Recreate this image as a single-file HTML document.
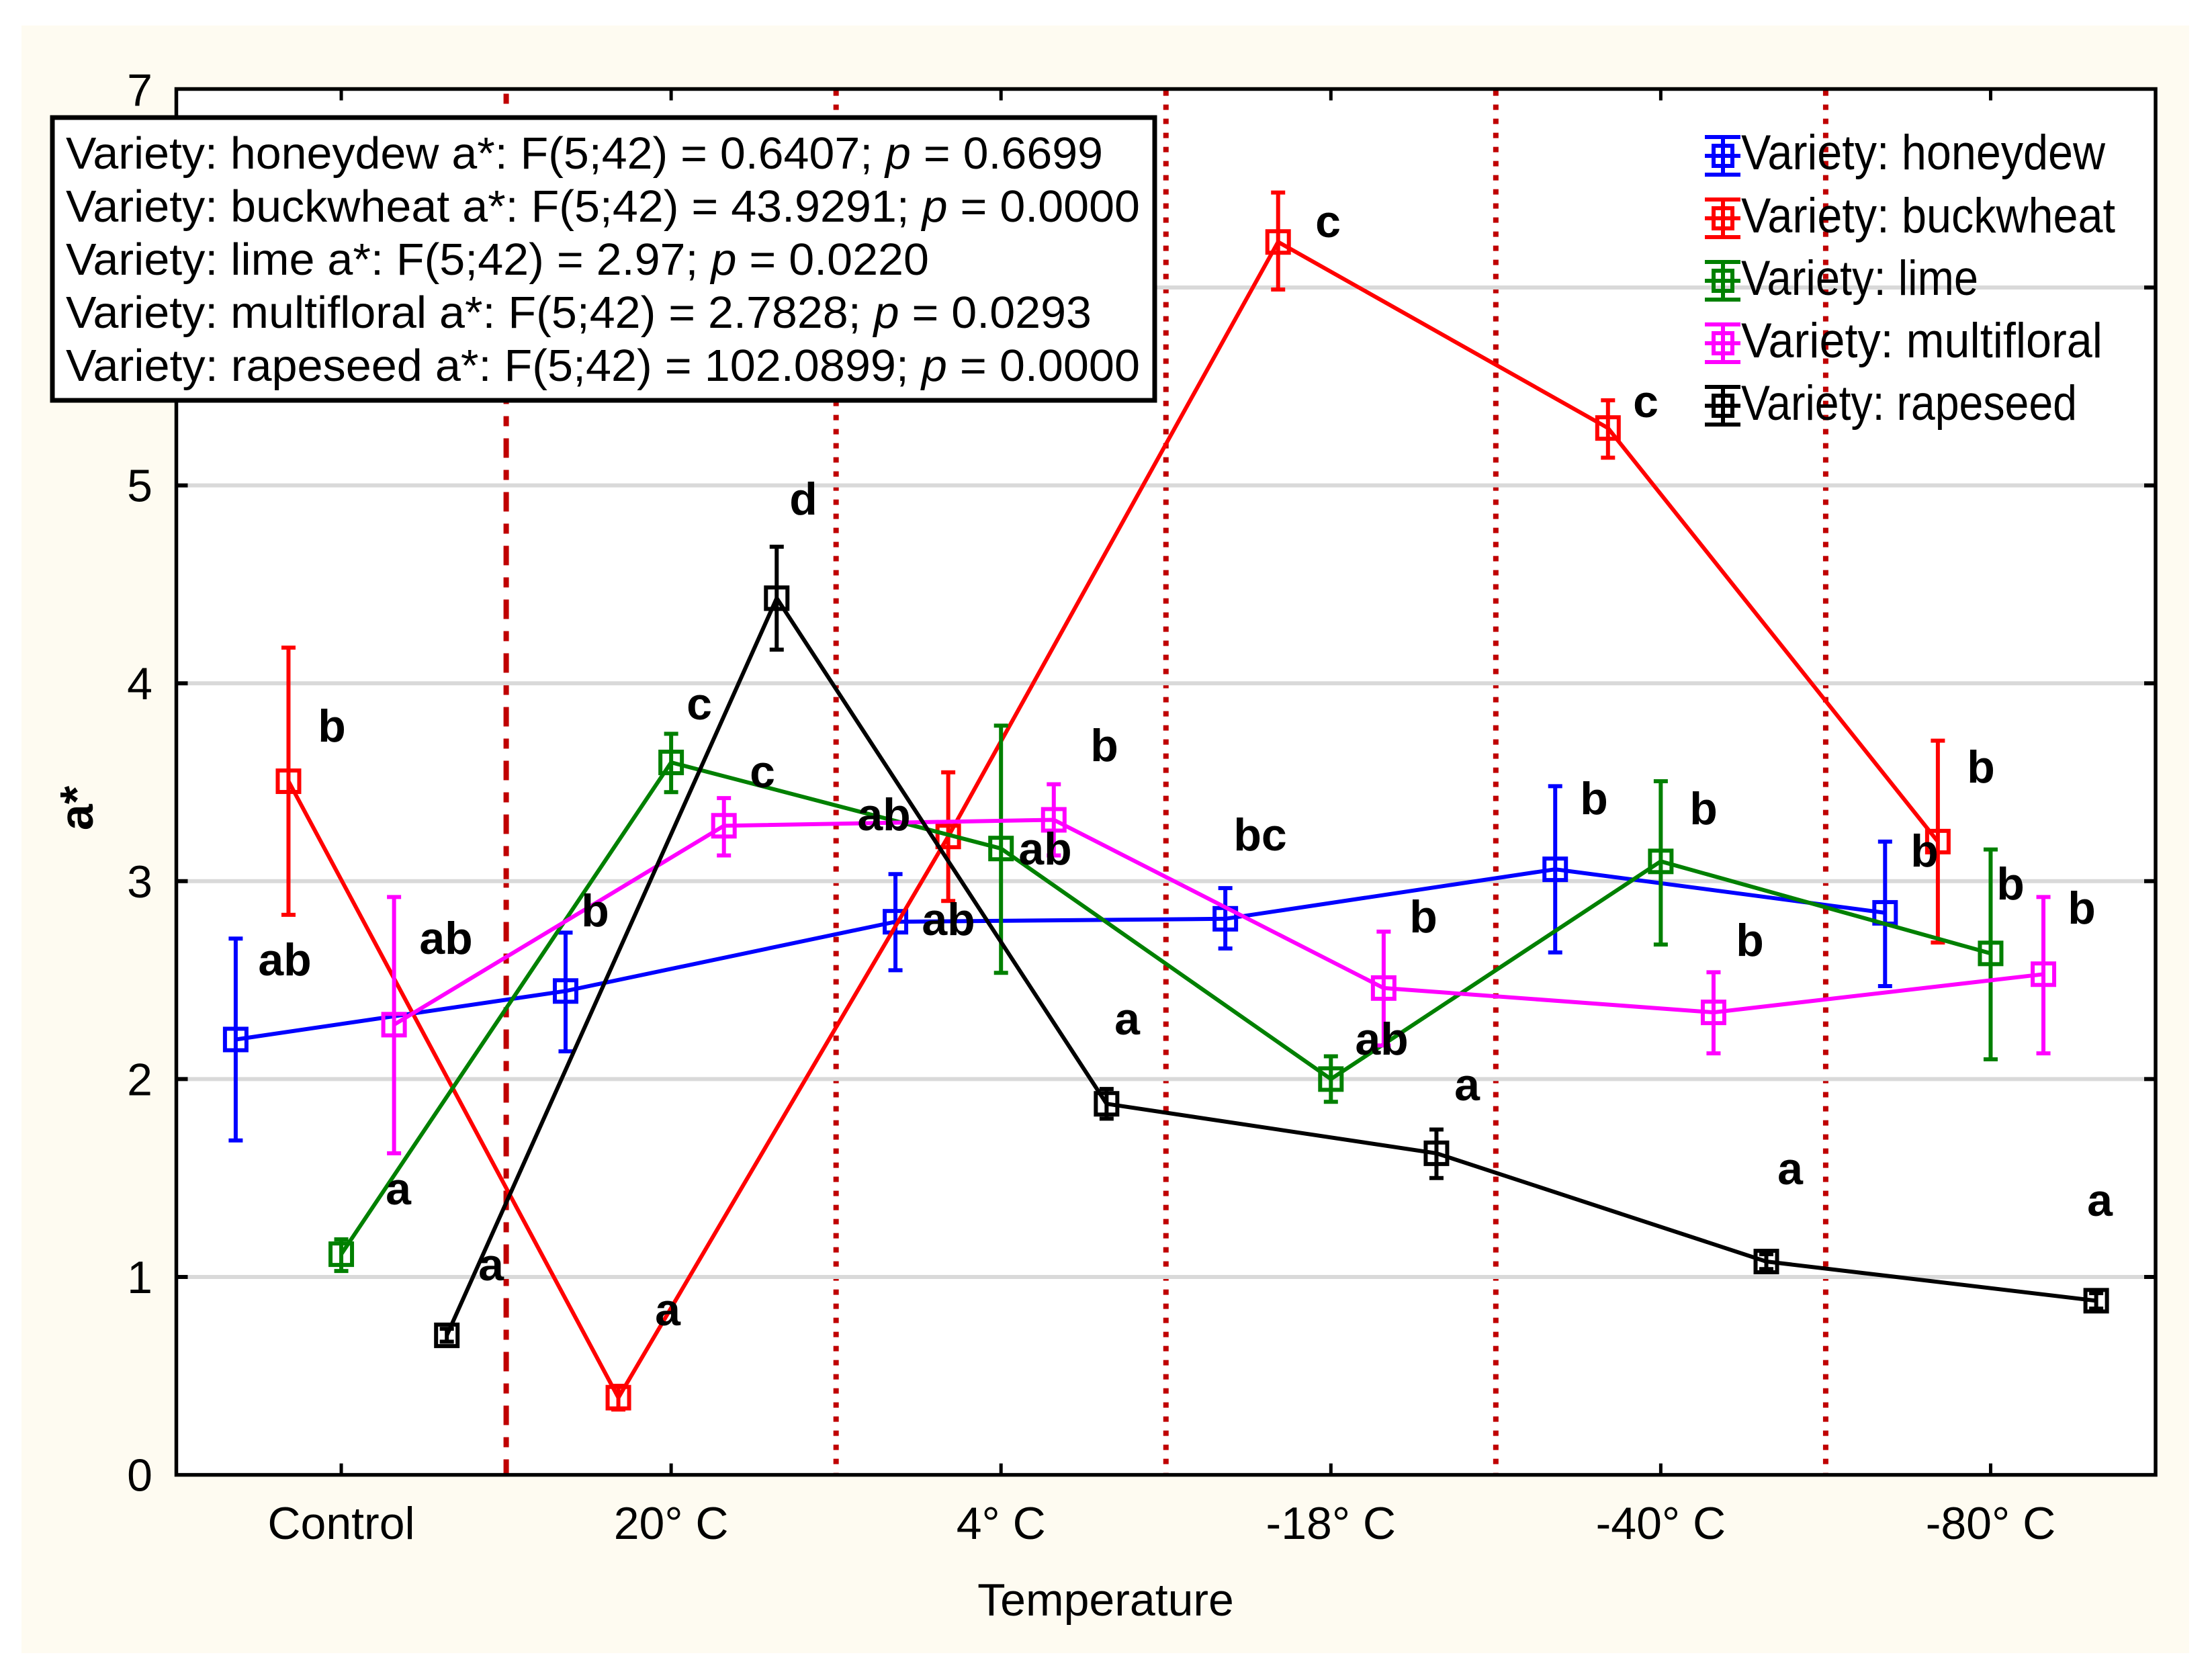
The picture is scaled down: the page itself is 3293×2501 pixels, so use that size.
<!DOCTYPE html>
<html lang="en">
<head>
<meta charset="utf-8">
<title>a* by temperature and honey variety</title>
<style>
html,body{margin:0;padding:0;background:#fff;}
svg{display:block;}
text{font-family:"Liberation Sans",Arial,sans-serif;fill:#000;}
.let{font-size:68px;font-weight:bold;text-anchor:middle;}
.stat{font-size:67px;}
.leg{font-size:73px;}
</style>
</head>
<body>
<svg id="chart" xmlns="http://www.w3.org/2000/svg" width="3293" height="2501" viewBox="0 0 3293 2501">
  <rect x="32" y="38" width="3227" height="2423" fill="#fefbf1"/>
  <rect x="262.5" y="132.5" width="2946.5" height="2063" fill="#fff"/>
  <g id="separators"></g>
  <g id="grid"></g>
  <g id="axes"></g>
  <g id="series"></g>

  <g>
    <text class="let" x="424" y="1452">ab</text>
    <text class="let" x="886" y="1379">b</text>
    <text class="let" x="1412" y="1392">ab</text>
    <text class="let" x="1876" y="1266">bc</text>
    <text class="let" x="2373" y="1212">b</text>
    <text class="let" x="2865" y="1290">b</text>
    <text class="let" x="494" y="1104">b</text>
    <text class="let" x="994" y="1973">a</text>
    <text class="let" x="1316" y="1236">ab</text>
    <text class="let" x="1977" y="353">c</text>
    <text class="let" x="2450" y="621">c</text>
    <text class="let" x="2949" y="1165">b</text>
    <text class="let" x="593" y="1793">a</text>
    <text class="let" x="1041" y="1071">c</text>
    <text class="let" x="1556" y="1287">ab</text>
    <text class="let" x="2057" y="1570">ab</text>
    <text class="let" x="2536" y="1227">b</text>
    <text class="let" x="2993" y="1339">b</text>
    <text class="let" x="664" y="1420">ab</text>
    <text class="let" x="1135" y="1172">c</text>
    <text class="let" x="1644" y="1133">b</text>
    <text class="let" x="2119" y="1388">b</text>
    <text class="let" x="2605" y="1423">b</text>
    <text class="let" x="3099" y="1375">b</text>
    <text class="let" x="731" y="1906">a</text>
    <text class="let" x="1196" y="766">d</text>
    <text class="let" x="1678" y="1540">a</text>
    <text class="let" x="2184" y="1638">a</text>
    <text class="let" x="2665" y="1763">a</text>
    <text class="let" x="3126" y="1810">a</text>
  </g>

  <text transform="translate(138 1203) rotate(-90)" text-anchor="middle" font-size="70" font-weight="bold">a*</text>
  <text x="1646" y="2405" text-anchor="middle" font-size="68">Temperature</text>

  <g>
    <rect x="78" y="175" width="1641" height="421" fill="#fff" stroke="#000" stroke-width="7"/>
    <text class="stat" x="98" y="251" textLength="1544" lengthAdjust="spacingAndGlyphs">Variety: honeydew a*: F(5;42) = 0.6407; <tspan font-style="italic">p</tspan> = 0.6699</text>
    <text class="stat" x="98" y="330" textLength="1599" lengthAdjust="spacingAndGlyphs">Variety: buckwheat a*: F(5;42) = 43.9291; <tspan font-style="italic">p</tspan> = 0.0000</text>
    <text class="stat" x="98" y="409" textLength="1285" lengthAdjust="spacingAndGlyphs">Variety: lime a*: F(5;42) = 2.97; <tspan font-style="italic">p</tspan> = 0.0220</text>
    <text class="stat" x="98" y="488" textLength="1527" lengthAdjust="spacingAndGlyphs">Variety: multifloral a*: F(5;42) = 2.7828; <tspan font-style="italic">p</tspan> = 0.0293</text>
    <text class="stat" x="98" y="567" textLength="1599" lengthAdjust="spacingAndGlyphs">Variety: rapeseed a*: F(5;42) = 102.0899; <tspan font-style="italic">p</tspan> = 0.0000</text>
  </g>

  <g>
    <g>
      <g fill="none" stroke="#0000ff" stroke-width="6">
        <path d="M2538 204H2591M2538 232H2591M2538 260H2591M2565 204V260"/><rect x="2551" y="217" width="28" height="30"/>
      </g>
      <text class="leg" x="2592" y="252" textLength="542" lengthAdjust="spacingAndGlyphs">Variety: honeydew</text>
    </g>
    <g>
      <g fill="none" stroke="#ff0000" stroke-width="6">
        <path d="M2538 297H2591M2538 325H2591M2538 353H2591M2565 297V353"/><rect x="2551" y="310" width="28" height="30"/>
      </g>
      <text class="leg" x="2592" y="346" textLength="557" lengthAdjust="spacingAndGlyphs">Variety: buckwheat</text>
    </g>
    <g>
      <g fill="none" stroke="#008000" stroke-width="6">
        <path d="M2538 390H2591M2538 418H2591M2538 446H2591M2565 390V446"/><rect x="2551" y="403" width="28" height="30"/>
      </g>
      <text class="leg" x="2592" y="439" textLength="353" lengthAdjust="spacingAndGlyphs">Variety: lime</text>
    </g>
    <g>
      <g fill="none" stroke="#ff00ff" stroke-width="6">
        <path d="M2538 483H2591M2538 511H2591M2538 539H2591M2565 483V539"/><rect x="2551" y="496" width="28" height="30"/>
      </g>
      <text class="leg" x="2592" y="532" textLength="538" lengthAdjust="spacingAndGlyphs">Variety: multifloral</text>
    </g>
    <g>
      <g fill="none" stroke="#000000" stroke-width="6">
        <path d="M2538 576H2591M2538 604H2591M2538 632H2591M2565 576V632"/><rect x="2551" y="589" width="28" height="30"/>
      </g>
      <text class="leg" x="2592" y="625" textLength="500" lengthAdjust="spacingAndGlyphs">Variety: rapeseed</text>
    </g>
  </g>
</svg>

<script>
const categories = ['Control', '20° C', '4° C', '-18° C', '-40° C', '-80° C'];
const yTicks = [0, 1, 2, 3, 4, 5, 6, 7];
const gridValues = [1, 2, 3, 4, 5, 6];

const honeydewValues = [2.20, 2.445, 2.795, 2.81, 3.06, 2.84];
const honeydewUpper = [2.71, 2.74, 3.036, 2.965, 3.48, 3.20];
const honeydewLower = [1.69, 2.14, 2.55, 2.66, 2.64, 2.47];

const buckwheatValues = [3.505, 0.39, 3.226, 6.23, 5.29, 3.20];
const buckwheatUpper = [4.18, 0.45, 3.55, 6.48, 5.43, 3.71];
const buckwheatLower = [2.83, 0.33, 2.90, 5.99, 5.14, 2.69];

const limeValues = [1.115, 3.60, 3.165, 2.00, 3.10, 2.635];
const limeUpper = [1.19, 3.745, 3.786, 2.115, 3.505, 3.16];
const limeLower = [1.03, 3.45, 2.537, 1.885, 2.68, 2.10];

const multifloralValues = [2.275, 3.28, 3.31, 2.46, 2.337, 2.53];
const multifloralUpper = [2.92, 3.42, 3.49, 2.745, 2.54, 2.92];
const multifloralLower = [1.625, 3.13, 3.13, 2.17, 2.13, 2.13];

const rapeseedValues = [0.705, 4.43, 1.875, 1.625, 1.078, 0.88];
const rapeseedUpper = [0.738, 4.69, 1.95, 1.745, 1.115, 0.918];
const rapeseedLower = [0.673, 4.17, 1.80, 1.50, 1.04, 0.84];

const NS = 'http://www.w3.org/2000/svg';
const plot = { left: 262.5, right: 3209, top: 132.5, bottom: 2195.6, yMax: 7 };
const bandW = (plot.right - plot.left) / categories.length;
const unitY = 294.6;
const seriesSpread = 0.16;

function xPos(catIndex, seriesIndex) {
  return plot.left + (catIndex + 0.5 + (seriesIndex - 2) * seriesSpread) * bandW;
}
function yPos(v) {
  return plot.bottom - v * unitY;
}
function mk(parent, tag, attrs) {
  const el = document.createElementNS(NS, tag);
  for (const k in attrs) el.setAttribute(k, attrs[k]);
  parent.appendChild(el);
  return el;
}

/* separators between temperature bands */
const sepLayer = document.getElementById('separators');
for (let i = 1; i < categories.length; i++) {
  const sx = plot.left + i * bandW;
  const first = i === 1;
  const sep = mk(sepLayer, 'line', {
    x1: sx, x2: sx,
    y1: first ? plot.top : plot.bottom,
    y2: first ? plot.bottom : plot.top,
    stroke: '#c00000',
    'stroke-width': 8,
    'stroke-dasharray': first ? '29 18 15 18' : '8 13',
    'stroke-dashoffset': first ? 40 : 5
  });
  
  
}

/* gridlines */
const gridLayer = document.getElementById('grid');
gridValues.forEach(function (v) {
  const g = mk(gridLayer, 'line', {
    x1: plot.left, x2: plot.right, y1: yPos(v), y2: yPos(v),
    stroke: '#d9d9d9', 'stroke-width': 6
  });
  
  
});

/* axes, ticks, tick labels */
const axes = document.getElementById('axes');
const frame = mk(axes, 'rect', {
  x: plot.left, y: plot.top, width: plot.right - plot.left, height: plot.bottom - plot.top,
  fill: 'none', stroke: '#000', 'stroke-width': 5.5
});



yTicks.forEach(function (v) {
  const y = yPos(v);
  if (v > 0 && v < plot.yMax) {
    const tl = mk(axes, 'line', { x1: plot.left, x2: plot.left + 17, y1: y, y2: y, stroke: '#000', 'stroke-width': 6 });
    
    
    const tr = mk(axes, 'line', { x1: plot.right - 17, x2: plot.right, y1: y, y2: y, stroke: '#000', 'stroke-width': 6 });
    
    
  }
  const lab = mk(axes, 'text', { x: 227, y: y + 24, 'text-anchor': 'end', 'font-size': 68 });
  
  
  lab.textContent = String(v);
});

categories.forEach(function (c, i) {
  const x = xPos(i, 2);
  const tb = mk(axes, 'line', { x1: x, x2: x, y1: plot.bottom - 17, y2: plot.bottom, stroke: '#000', 'stroke-width': 5 });
  
  
  const tt = mk(axes, 'line', { x1: x, x2: x, y1: plot.top, y2: plot.top + 17, stroke: '#000', 'stroke-width': 5 });
  
  
  const lab = mk(axes, 'text', { x: x, y: 2291, 'text-anchor': 'middle', 'font-size': 68 });
  
  
  lab.textContent = c;
});

/* series */
const seriesLayer = document.getElementById('series');
function drawSeries(key, color, seriesIndex, values, upper, lower) {
  const g = mk(seriesLayer, 'g', {});
  
  
  const pts = values.map(function (v, i) { return xPos(i, seriesIndex).toFixed(1) + ',' + yPos(v).toFixed(1); }).join(' ');
  values.forEach(function (v, i) {
    const x = xPos(i, seriesIndex);
    const hi = yPos(upper[i]);
    const lo = yPos(lower[i]);
    const bar = mk(g, 'path', {
      d: 'M' + x + ' ' + hi + 'V' + lo + 'M' + (x - 10.5) + ' ' + hi + 'H' + (x + 10.5) + 'M' + (x - 10.5) + ' ' + lo + 'H' + (x + 10.5),
      fill: 'none', stroke: color, 'stroke-width': 6
    });
    
    
  });
  const line = mk(g, 'polyline', { points: pts, fill: 'none', stroke: color, 'stroke-width': 6, 'stroke-linejoin': 'miter' });
  
  
  values.forEach(function (v, i) {
    const m = mk(g, 'rect', {
      x: xPos(i, seriesIndex) - 16, y: yPos(v) - 16, width: 32, height: 32,
      fill: 'none', stroke: color, 'stroke-width': 6
    });
    
    
  });
}
drawSeries('honeydew', '#0000ff', 0, honeydewValues, honeydewUpper, honeydewLower);
drawSeries('buckwheat', '#ff0000', 1, buckwheatValues, buckwheatUpper, buckwheatLower);
drawSeries('lime', '#008000', 2, limeValues, limeUpper, limeLower);
drawSeries('multifloral', '#ff00ff', 3, multifloralValues, multifloralUpper, multifloralLower);
drawSeries('rapeseed', '#000000', 4, rapeseedValues, rapeseedUpper, rapeseedLower);
</script>
</body>
</html>
